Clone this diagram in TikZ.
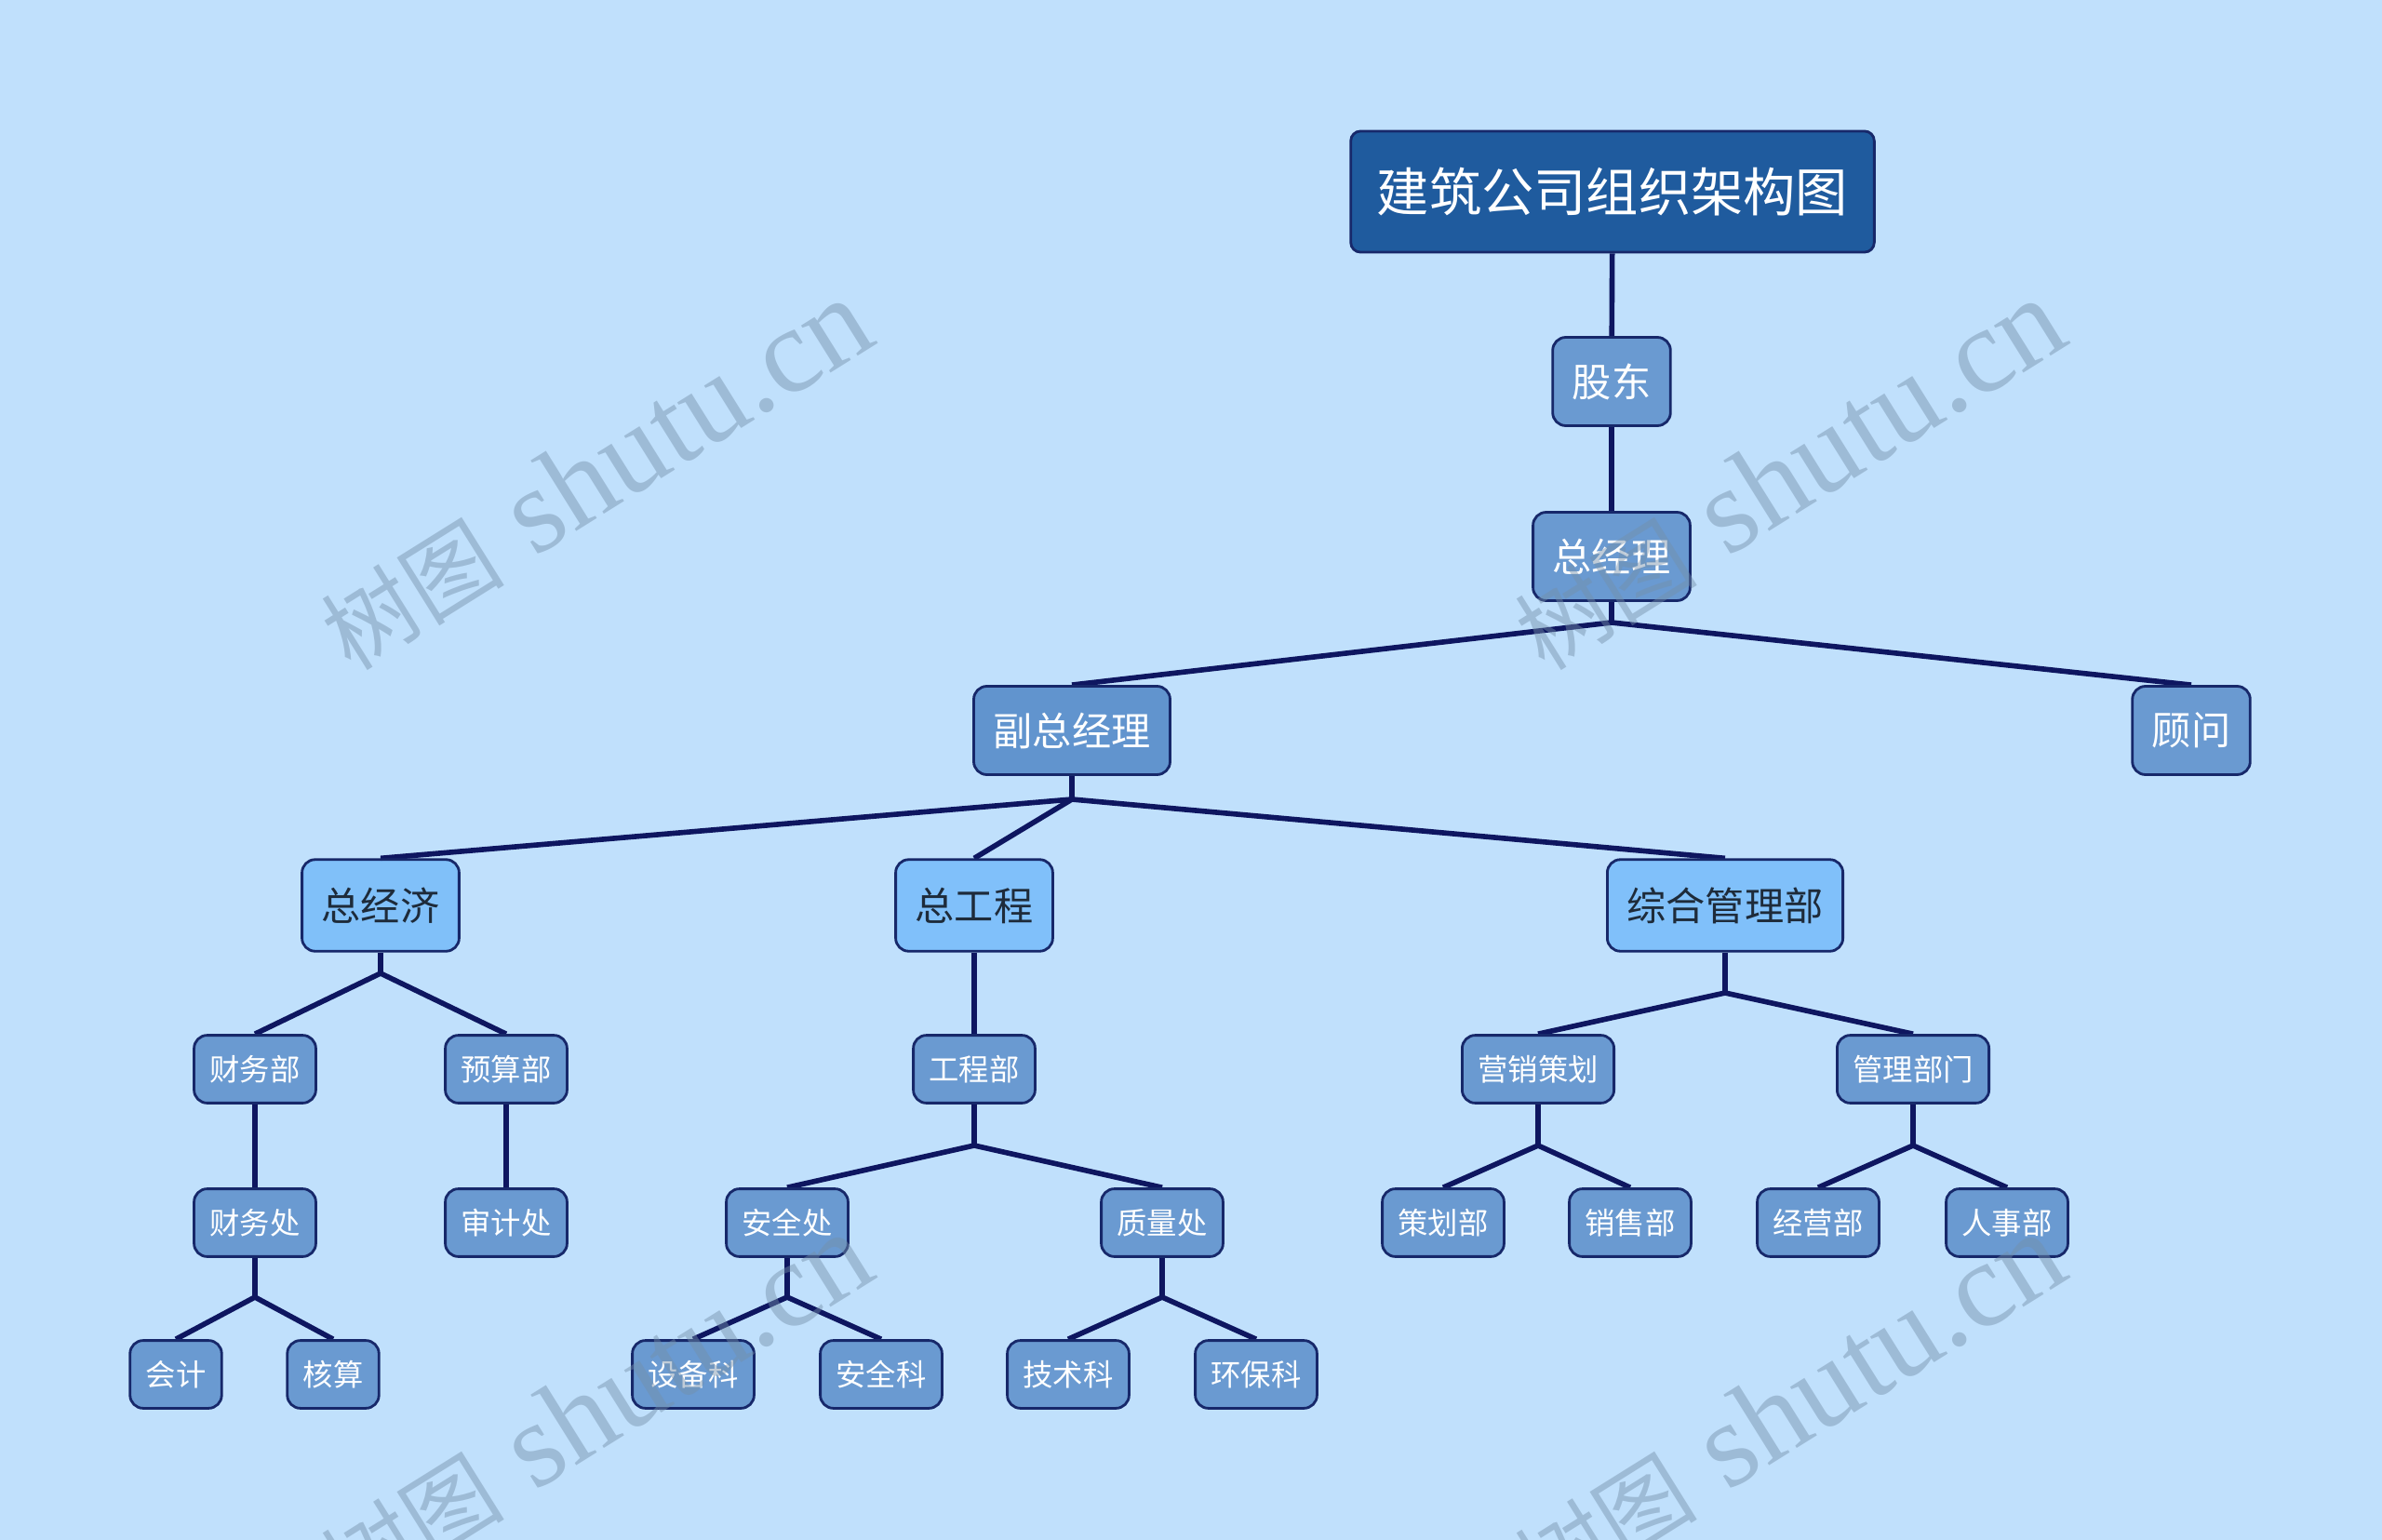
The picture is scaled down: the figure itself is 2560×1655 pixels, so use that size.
\documentclass[tikz,border=0pt]{standalone}
\usepackage{fontspec}
\newfontfamily\cjk{Noto Sans CJK SC}
\newfontfamily\wmfont{Liberation Serif}
\usetikzlibrary{backgrounds}
\definecolor{bgblue}{HTML}{C0E0FC}
\definecolor{titleblue}{HTML}{1F5B9E}
\definecolor{midblue}{HTML}{6A9AD1}
\definecolor{deepblue}{HTML}{4A82C3}
\definecolor{lightblue}{HTML}{80C0FA}
\definecolor{paleblue}{HTML}{70B8F9}
\definecolor{darktext}{HTML}{1E2B3A}
\definecolor{navy}{HTML}{0E1660}
\definecolor{rim}{HTML}{17286A}
\definecolor{wmgray}{RGB}{116,143,169}
\newcommand{\wmtext}{{\cjk\fontsize{28}{28}\selectfont 树图}\hspace{10pt}{\wmfont\fontsize{37}{37}\selectfont shutu.cn}}

\begin{document}
\begin{tikzpicture}[x=0.01cm,y=-0.01cm,
  box/.style={draw=rim,line width=0.8pt,rounded corners=4pt,inner ysep=0pt},
  topbox/.style={box,fill=titleblue,text=white,font=\cjk\fontsize{16}{16}\selectfont,minimum height=37pt,inner xsep=8pt,rounded corners=3pt},
  midbox/.style={box,fill=midblue,text=white,font=\cjk\fontsize{12}{12}\selectfont,minimum height=27pt,inner xsep=6pt},
  litbox/.style={box,fill=lightblue,text=darktext,font=\cjk\fontsize{12}{12}\selectfont,minimum height=28pt,inner xsep=6pt},
  smlbox/.style={box,fill=midblue,text=white,font=\cjk\fontsize{9.2}{9.2}\selectfont,minimum height=20.7pt,inner xsep=4.8pt},
  seethru/.style={fill opacity=0.8,text opacity=1},
  link/.style={draw=navy,line width=1.6pt},
  wm/.style={text=wmgray,text opacity=0.45,rotate=32}]
\useasboundingbox (0,0) rectangle (2560,1655);
% levels 0-3
\node[topbox] (tt) at (1733,206) {建筑公司组织架构图};
\node[midbox] (gd) at (1732,410) {股东};
\node[midbox] (zjl) at (1732,598) {总经理};
\node[midbox,seethru,fill=deepblue] (fzjl) at (1152,785) {副总经理};
\node[midbox] (gw) at (2355,785) {顾问};
\node[litbox,seethru,fill=paleblue] (zjj) at (409,973) {总经济};
\node[litbox] (zgc) at (1047,973) {总工程};
\node[litbox] (zhglb) at (1854,973) {综合管理部};
% level 4
\node[smlbox] (cwb) at (274,1149) {财务部};
\node[smlbox] (ysb) at (544,1149) {预算部};
\node[smlbox] (gcb) at (1047,1149) {工程部};
\node[smlbox] (yxch) at (1653,1149) {营销策划};
\node[smlbox] (glbm) at (2056,1149) {管理部门};
% level 5
\node[smlbox] (cwc) at (274,1314) {财务处};
\node[smlbox] (sjc) at (544,1314) {审计处};
\node[smlbox] (aqc) at (846,1314) {安全处};
\node[smlbox] (zlc) at (1249,1314) {质量处};
\node[smlbox] (chb) at (1551,1314) {策划部};
\node[smlbox] (xsb) at (1752,1314) {销售部};
\node[smlbox] (jyb) at (1954,1314) {经营部};
\node[smlbox] (rsb) at (2157,1314) {人事部};
% level 6
\node[smlbox] (kj) at (189,1477) {会计};
\node[smlbox] (hs) at (358,1477) {核算};
\node[smlbox] (sbk) at (745,1477) {设备科};
\node[smlbox] (aqk) at (947,1477) {安全科};
\node[smlbox] (jsk) at (1148,1477) {技术科};
\node[smlbox] (hbk) at (1350,1477) {环保科};
% junctions
\coordinate (j1) at (1732,669);
\coordinate (j2) at (1152,859);
\coordinate (j3) at (409,1046);
\coordinate (j4) at (1854,1067);
\coordinate (j5) at (1047,1231);
\coordinate (j6) at (1653,1231);
\coordinate (j7) at (2056,1231);
\coordinate (j8) at (274,1394);
\coordinate (j9) at (846,1394);
\coordinate (j10) at (1249,1394);
\begin{scope}[on background layer]
\fill[bgblue] (0,0) rectangle (2560,1655);
\draw[link] (tt) -- (gd) -- (zjl) -- (j1);
\foreach \c in {fzjl,gw} \draw[link] (j1) -- (\c.north);
\draw[link] (fzjl) -- (j2);
\foreach \c in {zjj,zgc,zhglb} \draw[link] (j2) -- (\c.north);
\draw[link] (zjj) -- (j3);
\foreach \c in {cwb,ysb} \draw[link] (j3) -- (\c.north);
\draw[link] (zgc) -- (gcb);
\draw[link] (zhglb) -- (j4);
\foreach \c in {yxch,glbm} \draw[link] (j4) -- (\c.north);
\draw[link] (cwb) -- (cwc);
\draw[link] (ysb) -- (sjc);
\draw[link] (gcb) -- (j5);
\foreach \c in {aqc,zlc} \draw[link] (j5) -- (\c.north);
\draw[link] (yxch) -- (j6);
\foreach \c in {chb,xsb} \draw[link] (j6) -- (\c.north);
\draw[link] (glbm) -- (j7);
\foreach \c in {jyb,rsb} \draw[link] (j7) -- (\c.north);
\draw[link] (cwc) -- (j8);
\foreach \c in {kj,hs} \draw[link] (j8) -- (\c.north);
\draw[link] (aqc) -- (j9);
\foreach \c in {sbk,aqk} \draw[link] (j9) -- (\c.north);
\draw[link] (zlc) -- (j10);
\foreach \c in {jsk,hbk} \draw[link] (j10) -- (\c.north);
\end{scope}
% watermarks
\node[wm] (wm1) at (640,510) {\wmtext};
\node[wm] (wm2) at (1922,510) {\wmtext};
\node[wm] (wm3) at (640,1514) {\wmtext};
\node[wm] (wm4) at (1922,1514) {\wmtext};
\end{tikzpicture}
\end{document}
